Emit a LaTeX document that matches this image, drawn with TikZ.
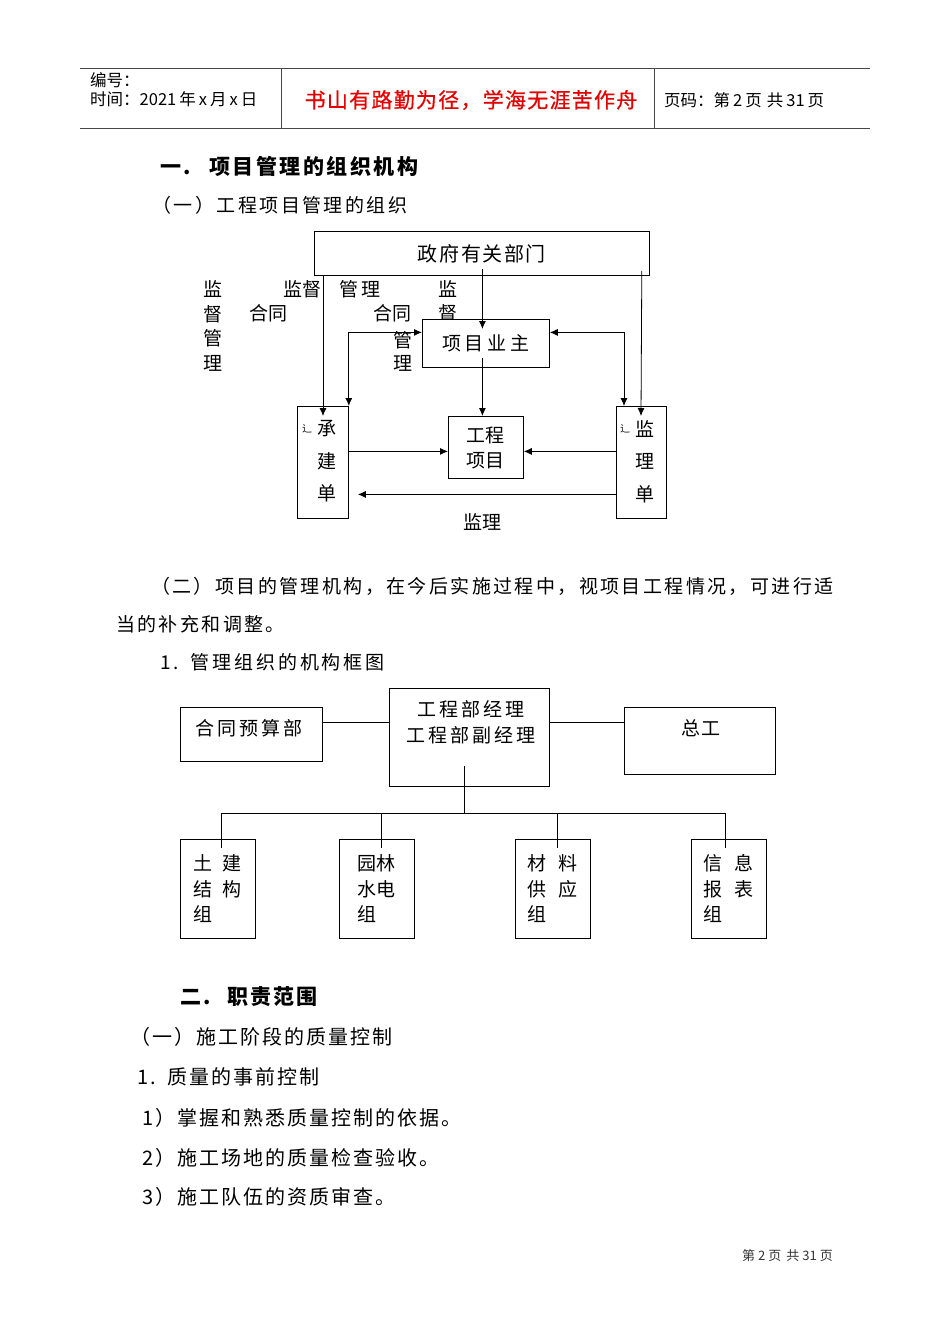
\documentclass[tikz,border=0pt]{standalone}
\usepackage{fontspec}
\setmainfont{Noto Sans CJK SC}
\usetikzlibrary{arrows.meta,calc}
\newcommand\fs[2]{\fontsize{#1}{#2}\selectfont}
\newcommand\lsp[1]{\addfontfeature{LetterSpace=#1}}
\definecolor{hdrline}{RGB}{70,70,70}
\definecolor{redtxt}{RGB}{228,0,0}
\begin{document}
\begin{tikzpicture}[x=1pt,y=-1pt,
  box/.style={draw, line width=0.8pt, inner sep=0pt, fill=white, anchor=north west},
  arr/.style={-{Latex[length=8pt,width=7pt]}, line width=0.8pt},
  darr/.style={{Latex[length=8pt,width=7pt]}-{Latex[length=8pt,width=7pt]}, line width=0.8pt},
  ln/.style={line width=0.8pt},
  body/.style={anchor=west, inner sep=0pt, font=\fs{19}{24}\lsp{13}},
  bodyb/.style={anchor=west, inner sep=0pt, font=\fs{20}{24}\lsp{10}},
  lab/.style={inner sep=0pt, align=center, font=\fs{19}{24}},
  hdr/.style={anchor=west, inner sep=0pt, font=\fs{16.5}{19}},
]
\useasboundingbox (0,0) rectangle (950,1344);
\fill[white] (0,0) rectangle (950,1344);

% ---------------- header ----------------
\coordinate (hl) at (80,68);
\coordinate (hr) at (870,68);
\coordinate (bl) at (80,128);
\coordinate (br) at (870,128);
\draw[hdrline, line width=0.9pt] (hl) -- (hr);
\draw[hdrline, line width=0.9pt] (bl) -- (br);
\coordinate (v1t) at (281,68); \coordinate (v1b) at (281,128);
\coordinate (v2t) at (654,68); \coordinate (v2b) at (654,128);
\draw[hdrline, line width=0.8pt] (v1t) -- (v1b);
\draw[hdrline, line width=0.8pt] (v2t) -- (v2b);
\node[hdr] (bh) at (90,80) {编号：};
\node[hdr] (sj) at (90,99) {时间：2021\hspace{3pt}年\hspace{3pt}x\hspace{3pt}月\hspace{3pt}x\hspace{3pt}日};
\node[inner sep=0pt, text=redtxt, font=\fs{21}{24}\lsp{6}\addfontfeature{FakeBold=0.6}] (motto) at (471,100) {书山有路勤为径，学海无涯苦作舟};
\node[hdr] (ym) at (664,100) {页码：第\hspace{3pt}2\hspace{3pt}页\hspace{5pt}共\hspace{3pt}31\hspace{3pt}页};

% ---------------- section 1 ----------------
\node[anchor=west, inner sep=0pt, font=\fs{21}{24}\bfseries\lsp{12}] (t1) at (160,166) {一.\hspace{18pt}项目管理的组织机构};
\node[body] (s11) at (152,205) {（一）工程项目管理的组织};

% labels of diagram 1 (drawn before boxes)
\node[lab, font=\fs{19}{24.7}] (l1) at (213,326) {监\\督\\管\\理};
\node[lab] (l2) at (268,313) {合同};
\node[lab] (l3) at (302,289) {监督};
\node[lab, font=\fs{19}{24}\lsp{20}] (l4) at (360,289) {管理};
\node[lab] (l5) at (392,313) {合同};
\node[lab, font=\fs{19}{23.5}] (l6) at (403,351.5) {管\\理};
\node[lab, font=\fs{19}{24}] (l7) at (448,301) {监\\督};

% boxes of diagram 1
\node[box, minimum width=335, minimum height=44, font=\fs{20}{24}\lsp{8}] (gov) at (314,231) {政府有关部门};
\node[box, minimum width=127, minimum height=48, font=\fs{19}{24}\lsp{20}] (own) at (422,319) {项目业主};
\node[box, minimum width=75, minimum height=62, align=center, font=\fs{19}{25}] (proj) at (448,416) {工程\\项目};
\node[box, minimum width=51, minimum height=112] (cj) at (297,406) {};
\node[box, minimum width=50, minimum height=112] (jl) at (616,406) {};
\node[lab, font=\fs{19}{32.5}] (cjt) at (327,461.5) {承\\建\\单};
\node[lab, font=\fs{10}{12}] (cjs) at (307,429) {辶};
\node[lab, font=\fs{19}{32.5}] (jlt) at (645,461.5) {监\\理\\单};
\node[lab, font=\fs{10}{12}] (jls) at (625,429) {辶};

% connectors of diagram 1
\draw[arr] ($(gov.south west)+(9,0)$) -- ($(cj.north west)+(26,10)$);
\draw[arr] ($(gov.south)+(0.5,-7)$) -- ($(own.north)+(-3.5,10)$);
\draw[arr] ($(gov.south east)+(-8,-5)$) -- ($(jl.north west)+(25,10)$);
\draw[arr] ($(own.south)+(-3.5,-10)$) -- ($(proj.north)+(-3.5,0)$);
\draw[darr] ($(own.west)+(0,-11)$) -| (cj.north east);
\draw[darr] ($(own.east)+(0,-11)$) -| ($(jl.north west)+(8,0)$);
\draw[arr] ($(cj.east)+(0,-11)$) -- ($(proj.west)+(0,4)$);
\draw[arr] ($(jl.west)+(0,-11)$) -- ($(proj.east)+(0,4)$);
\draw[arr] ($(jl.west)+(0,32)$) -- ($(cj.east)+(9,32)$);
\node[lab] (jlb) at (482,522) {监理};

% ---------------- paragraph ----------------
\node[body, font=\fs{19}{24}\lsp{12.6}] (p1) at (151,586) {（二）项目的管理机构，在今后实施过程中，视项目工程情况，可进行适};
\node[body, font=\fs{19}{24}\lsp{12.6}] (p2) at (116,624) {当的补充和调整。};
\node[body, font=\fs{19}{24}\lsp{15}] (p3) at (160,662) {1.\hspace{12pt}管理组织的机构框图};

% ---------------- diagram 2 ----------------
\node[box, minimum width=142, minimum height=54] (hb) at (180,707) {};
\node[lab, font=\fs{19}{24}\lsp{15}] (hbt) at (249,728) {合同预算部};
\node[box, minimum width=160, minimum height=98] (mgr) at (389,688) {};
\node[lab, font=\fs{19}{26}\lsp{15}] (mgrt) at (471,722) {工程部经理\\工程部副经理};
\node[box, minimum width=151, minimum height=67] (zg) at (624,707) {};
\node[lab, font=\fs{19}{24}\lsp{10}] (zgt) at (701,728) {总工};

\coordinate (lv) at (0,722);
\draw[ln] (hb.east |- lv) -- (mgr.west |- lv);
\draw[ln] (mgr.east |- lv) -- (zg.west |- lv);

\node[box, minimum width=75, minimum height=99, align=left, font=\fs{19}{25.5}] (g1) at (180,839) {土\hspace{10pt}建\\结\hspace{10pt}构\\组};
\node[box, minimum width=75, minimum height=99, align=left, font=\fs{19}{25.5}] (g2) at (339,839) {园林\\水电\\组};
\node[box, minimum width=75, minimum height=99, align=left, font=\fs{19}{25.5}] (g3) at (515,839) {材\hspace{12pt}料\\供\hspace{12pt}应\\组};
\node[box, minimum width=75, minimum height=99, align=left, font=\fs{19}{25.5}] (g4) at (691,839) {信\hspace{12pt}息\\报\hspace{12pt}表\\组};

\draw[ln] ($(mgr.south)+(-5,-21)$) -- ($(mgr.south)+(-5,27)$);
\draw[ln] ($(g1.north west)+(41,9)$) |- ($(g4.north west)+(34,-26)$) -- ($(g4.north west)+(34,9)$);
\draw[ln] ($(g2.north west)+(42,-26)$) -- ($(g2.north west)+(42,9)$);
\draw[ln] ($(g3.north west)+(42,-26)$) -- ($(g3.north west)+(42,9)$);

% ---------------- section 2 ----------------
\node[anchor=west, inner sep=0pt, font=\fs{21}{24}\bfseries\lsp{10}] (t2) at (180,997) {二.\hspace{17pt}职责范围};
\node[bodyb] (s21) at (130,1037) {（一）施工阶段的质量控制};
\node[bodyb] (s22) at (137,1077) {1.\hspace{12pt}质量的事前控制};
\node[bodyb] (s23) at (142,1118) {1）掌握和熟悉质量控制的依据。};
\node[bodyb] (s24) at (142,1158) {2）施工场地的质量检查验收。};
\node[bodyb] (s25) at (142,1197) {3）施工队伍的资质审查。};

% ---------------- footer ----------------
\node[anchor=west, inner sep=0pt, text=black!80, font=\fs{13}{15}] (ft) at (742,1256) {第\hspace{3pt}2\hspace{3pt}页\hspace{5pt}共\hspace{3pt}31\hspace{3pt}页};
\end{tikzpicture}
\end{document}
